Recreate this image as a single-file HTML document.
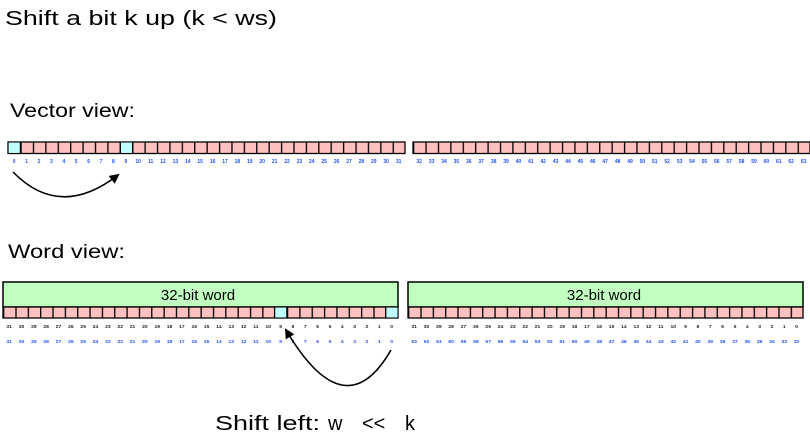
<!DOCTYPE html>
<html><head><meta charset="utf-8"><style>
html,body{margin:0;padding:0;background:#fff;width:810px;height:447px;overflow:hidden}
svg{display:block}
.h{font-family:"Liberation Sans",sans-serif;fill:#000}
.n{font-family:"Liberation Sans",sans-serif;font-size:5px;font-weight:bold;text-anchor:middle}
</style></head><body>
<svg width="810" height="447" viewBox="0 0 810 447" xmlns="http://www.w3.org/2000/svg">
<defs>
<pattern id="pv" x="8" y="0" width="12.406" height="447" patternUnits="userSpaceOnUse">
<rect x="0" y="0" width="12.406" height="447" fill="#ffc0c0"/><rect x="0" y="0" width="1.3" height="447" fill="#000"/></pattern>
<pattern id="pv2" x="413" y="0" width="12.406" height="447" patternUnits="userSpaceOnUse">
<rect x="0" y="0" width="12.406" height="447" fill="#ffc0c0"/><rect x="0" y="0" width="1.3" height="447" fill="#000"/></pattern>
<pattern id="pw" x="3" y="0" width="12.344" height="447" patternUnits="userSpaceOnUse">
<rect x="0" y="0" width="12.344" height="447" fill="#ffc0c0"/><rect x="0" y="0" width="1.3" height="447" fill="#000"/></pattern>
<pattern id="pw2" x="408" y="0" width="12.344" height="447" patternUnits="userSpaceOnUse">
<rect x="0" y="0" width="12.344" height="447" fill="#ffc0c0"/><rect x="0" y="0" width="1.3" height="447" fill="#000"/></pattern>
<marker id="ah" markerWidth="10" markerHeight="10" refX="8" refY="5" orient="auto" markerUnits="userSpaceOnUse">
<path d="M0,0 L10,5 L0,10 Z" fill="#000"/></marker>
</defs>

<text class="h" x="5" y="25" font-size="20" textLength="272" lengthAdjust="spacingAndGlyphs">Shift a bit k up (k &lt; ws)</text>
<text class="h" x="10" y="117" font-size="19" textLength="125" lengthAdjust="spacingAndGlyphs">Vector view:</text>
<text class="h" x="8" y="258" font-size="19" textLength="117" lengthAdjust="spacingAndGlyphs">Word view:</text>
<text class="h" x="215" y="430" font-size="20" textLength="105" lengthAdjust="spacingAndGlyphs">Shift left:</text>
<text class="h" x="328" y="430" font-size="20">w</text>
<text class="h" x="362" y="430" font-size="20">&lt;&lt;</text>
<text class="h" x="405" y="430" font-size="20">k</text>

<!-- vector cells -->
<rect x="8" y="142" width="397" height="11.5" fill="url(#pv)" stroke="#000" stroke-width="1.3"/>
<rect x="413" y="142" width="397" height="11.5" fill="url(#pv2)" stroke="#000" stroke-width="1.3"/>
<rect x="8.6" y="142.6" width="11.8" height="10.3" fill="#c0ffff"/>
<rect x="120.3" y="142.6" width="11.8" height="10.3" fill="#c0ffff"/>
<line x1="20.4" y1="142" x2="20.4" y2="153.5" stroke="#000" stroke-width="1.3"/>
<line x1="120.3" y1="142" x2="120.3" y2="153.5" stroke="#000" stroke-width="1.3"/>
<line x1="132.7" y1="142" x2="132.7" y2="153.5" stroke="#000" stroke-width="1.3"/>

<!-- vector labels -->
<g fill="#2050ff">
<text class="n" y="163"><tspan x="14.2">0</tspan><tspan x="26.6">1</tspan><tspan x="39">2</tspan><tspan x="51.4">3</tspan><tspan x="63.8">4</tspan><tspan x="76.2">5</tspan><tspan x="88.6">6</tspan><tspan x="101">7</tspan><tspan x="113.4">8</tspan><tspan x="125.8">9</tspan><tspan x="138.2">10</tspan><tspan x="150.6">11</tspan><tspan x="163">12</tspan><tspan x="175.4">13</tspan><tspan x="187.8">14</tspan><tspan x="200.2">15</tspan><tspan x="212.6">16</tspan><tspan x="225">17</tspan><tspan x="237.4">18</tspan><tspan x="249.8">19</tspan><tspan x="262.2">20</tspan><tspan x="274.6">21</tspan><tspan x="287">22</tspan><tspan x="299.4">23</tspan><tspan x="311.8">24</tspan><tspan x="324.2">25</tspan><tspan x="336.6">26</tspan><tspan x="349">27</tspan><tspan x="361.4">28</tspan><tspan x="373.8">29</tspan><tspan x="386.2">30</tspan><tspan x="398.6">31</tspan></text>
<text class="n" y="163" transform="translate(405,0)"><tspan x="14.2">32</tspan><tspan x="26.6">33</tspan><tspan x="39">34</tspan><tspan x="51.4">35</tspan><tspan x="63.8">36</tspan><tspan x="76.2">37</tspan><tspan x="88.6">38</tspan><tspan x="101">39</tspan><tspan x="113.4">40</tspan><tspan x="125.8">41</tspan><tspan x="138.2">42</tspan><tspan x="150.6">43</tspan><tspan x="163">44</tspan><tspan x="175.4">45</tspan><tspan x="187.8">46</tspan><tspan x="200.2">47</tspan><tspan x="212.6">48</tspan><tspan x="225">49</tspan><tspan x="237.4">50</tspan><tspan x="249.8">51</tspan><tspan x="262.2">52</tspan><tspan x="274.6">53</tspan><tspan x="287">54</tspan><tspan x="299.4">55</tspan><tspan x="311.8">56</tspan><tspan x="324.2">57</tspan><tspan x="336.6">58</tspan><tspan x="349">59</tspan><tspan x="361.4">60</tspan><tspan x="373.8">61</tspan><tspan x="386.2">62</tspan><tspan x="398.6">63</tspan></text>
</g>

<path d="M13,172 Q60,220 118,175" fill="none" stroke="#000" stroke-width="1.6" marker-end="url(#ah)"/>

<!-- word boxes -->
<rect x="3" y="282" width="395" height="25" fill="#c0ffc0" stroke="#000" stroke-width="1.5"/>
<rect x="408" y="282" width="395" height="25" fill="#c0ffc0" stroke="#000" stroke-width="1.5"/>
<text class="h" x="198" y="300" font-size="15" text-anchor="middle">32-bit word</text>
<text class="h" x="604" y="300" font-size="15" text-anchor="middle">32-bit word</text>
<rect x="3" y="307" width="395" height="11" fill="url(#pw)" stroke="#000" stroke-width="1.3"/>
<rect x="408" y="307" width="395" height="11" fill="url(#pw2)" stroke="#000" stroke-width="1.3"/>
<rect x="274.8" y="307.6" width="11.7" height="9.8" fill="#c0ffff"/>
<rect x="386.1" y="307.6" width="11.4" height="9.8" fill="#c0ffff"/>
<line x1="274.6" y1="307" x2="274.6" y2="318" stroke="#000" stroke-width="1.3"/>
<line x1="286.9" y1="307" x2="286.9" y2="318" stroke="#000" stroke-width="1.3"/>
<line x1="385.7" y1="307" x2="385.7" y2="318" stroke="#000" stroke-width="1.3"/>

<!-- word labels -->
<g transform="translate(-4.96,0) scale(0.995,1)">
<text class="n" y="328" fill="#222"><tspan x="14.2">31</tspan><tspan x="26.6">30</tspan><tspan x="39">29</tspan><tspan x="51.4">28</tspan><tspan x="63.8">27</tspan><tspan x="76.2">26</tspan><tspan x="88.6">25</tspan><tspan x="101">24</tspan><tspan x="113.4">23</tspan><tspan x="125.8">22</tspan><tspan x="138.2">21</tspan><tspan x="150.6">20</tspan><tspan x="163">19</tspan><tspan x="175.4">18</tspan><tspan x="187.8">17</tspan><tspan x="200.2">16</tspan><tspan x="212.6">15</tspan><tspan x="225">14</tspan><tspan x="237.4">13</tspan><tspan x="249.8">12</tspan><tspan x="262.2">11</tspan><tspan x="274.6">10</tspan><tspan x="287">9</tspan><tspan x="299.4">8</tspan><tspan x="311.8">7</tspan><tspan x="324.2">6</tspan><tspan x="336.6">5</tspan><tspan x="349">4</tspan><tspan x="361.4">3</tspan><tspan x="373.8">2</tspan><tspan x="386.2">1</tspan><tspan x="398.6">0</tspan></text>
<text class="n" y="343" fill="#2050ff"><tspan x="14.2">31</tspan><tspan x="26.6">30</tspan><tspan x="39">29</tspan><tspan x="51.4">28</tspan><tspan x="63.8">27</tspan><tspan x="76.2">26</tspan><tspan x="88.6">25</tspan><tspan x="101">24</tspan><tspan x="113.4">23</tspan><tspan x="125.8">22</tspan><tspan x="138.2">21</tspan><tspan x="150.6">20</tspan><tspan x="163">19</tspan><tspan x="175.4">18</tspan><tspan x="187.8">17</tspan><tspan x="200.2">16</tspan><tspan x="212.6">15</tspan><tspan x="225">14</tspan><tspan x="237.4">13</tspan><tspan x="249.8">12</tspan><tspan x="262.2">11</tspan><tspan x="274.6">10</tspan><tspan x="287">9</tspan><tspan x="299.4">8</tspan><tspan x="311.8">7</tspan><tspan x="324.2">6</tspan><tspan x="336.6">5</tspan><tspan x="349">4</tspan><tspan x="361.4">3</tspan><tspan x="373.8">2</tspan><tspan x="386.2">1</tspan><tspan x="398.6">0</tspan></text>
</g>
<g transform="translate(400.04,0) scale(0.995,1)">
<text class="n" y="328" fill="#222"><tspan x="14.2">31</tspan><tspan x="26.6">30</tspan><tspan x="39">29</tspan><tspan x="51.4">28</tspan><tspan x="63.8">27</tspan><tspan x="76.2">26</tspan><tspan x="88.6">25</tspan><tspan x="101">24</tspan><tspan x="113.4">23</tspan><tspan x="125.8">22</tspan><tspan x="138.2">21</tspan><tspan x="150.6">20</tspan><tspan x="163">19</tspan><tspan x="175.4">18</tspan><tspan x="187.8">17</tspan><tspan x="200.2">16</tspan><tspan x="212.6">15</tspan><tspan x="225">14</tspan><tspan x="237.4">13</tspan><tspan x="249.8">12</tspan><tspan x="262.2">11</tspan><tspan x="274.6">10</tspan><tspan x="287">9</tspan><tspan x="299.4">8</tspan><tspan x="311.8">7</tspan><tspan x="324.2">6</tspan><tspan x="336.6">5</tspan><tspan x="349">4</tspan><tspan x="361.4">3</tspan><tspan x="373.8">2</tspan><tspan x="386.2">1</tspan><tspan x="398.6">0</tspan></text>
<text class="n" y="343" fill="#2050ff"><tspan x="14.2">63</tspan><tspan x="26.6">62</tspan><tspan x="39">61</tspan><tspan x="51.4">60</tspan><tspan x="63.8">59</tspan><tspan x="76.2">58</tspan><tspan x="88.6">57</tspan><tspan x="101">56</tspan><tspan x="113.4">55</tspan><tspan x="125.8">54</tspan><tspan x="138.2">53</tspan><tspan x="150.6">52</tspan><tspan x="163">51</tspan><tspan x="175.4">50</tspan><tspan x="187.8">49</tspan><tspan x="200.2">48</tspan><tspan x="212.6">47</tspan><tspan x="225">46</tspan><tspan x="237.4">45</tspan><tspan x="249.8">44</tspan><tspan x="262.2">43</tspan><tspan x="274.6">42</tspan><tspan x="287">41</tspan><tspan x="299.4">40</tspan><tspan x="311.8">39</tspan><tspan x="324.2">38</tspan><tspan x="336.6">37</tspan><tspan x="349">36</tspan><tspan x="361.4">35</tspan><tspan x="373.8">34</tspan><tspan x="386.2">33</tspan><tspan x="398.6">32</tspan></text>
</g>

<path d="M391,350 Q345,430 286,330" fill="none" stroke="#000" stroke-width="1.6" marker-end="url(#ah)"/>
</svg>
</body></html>
